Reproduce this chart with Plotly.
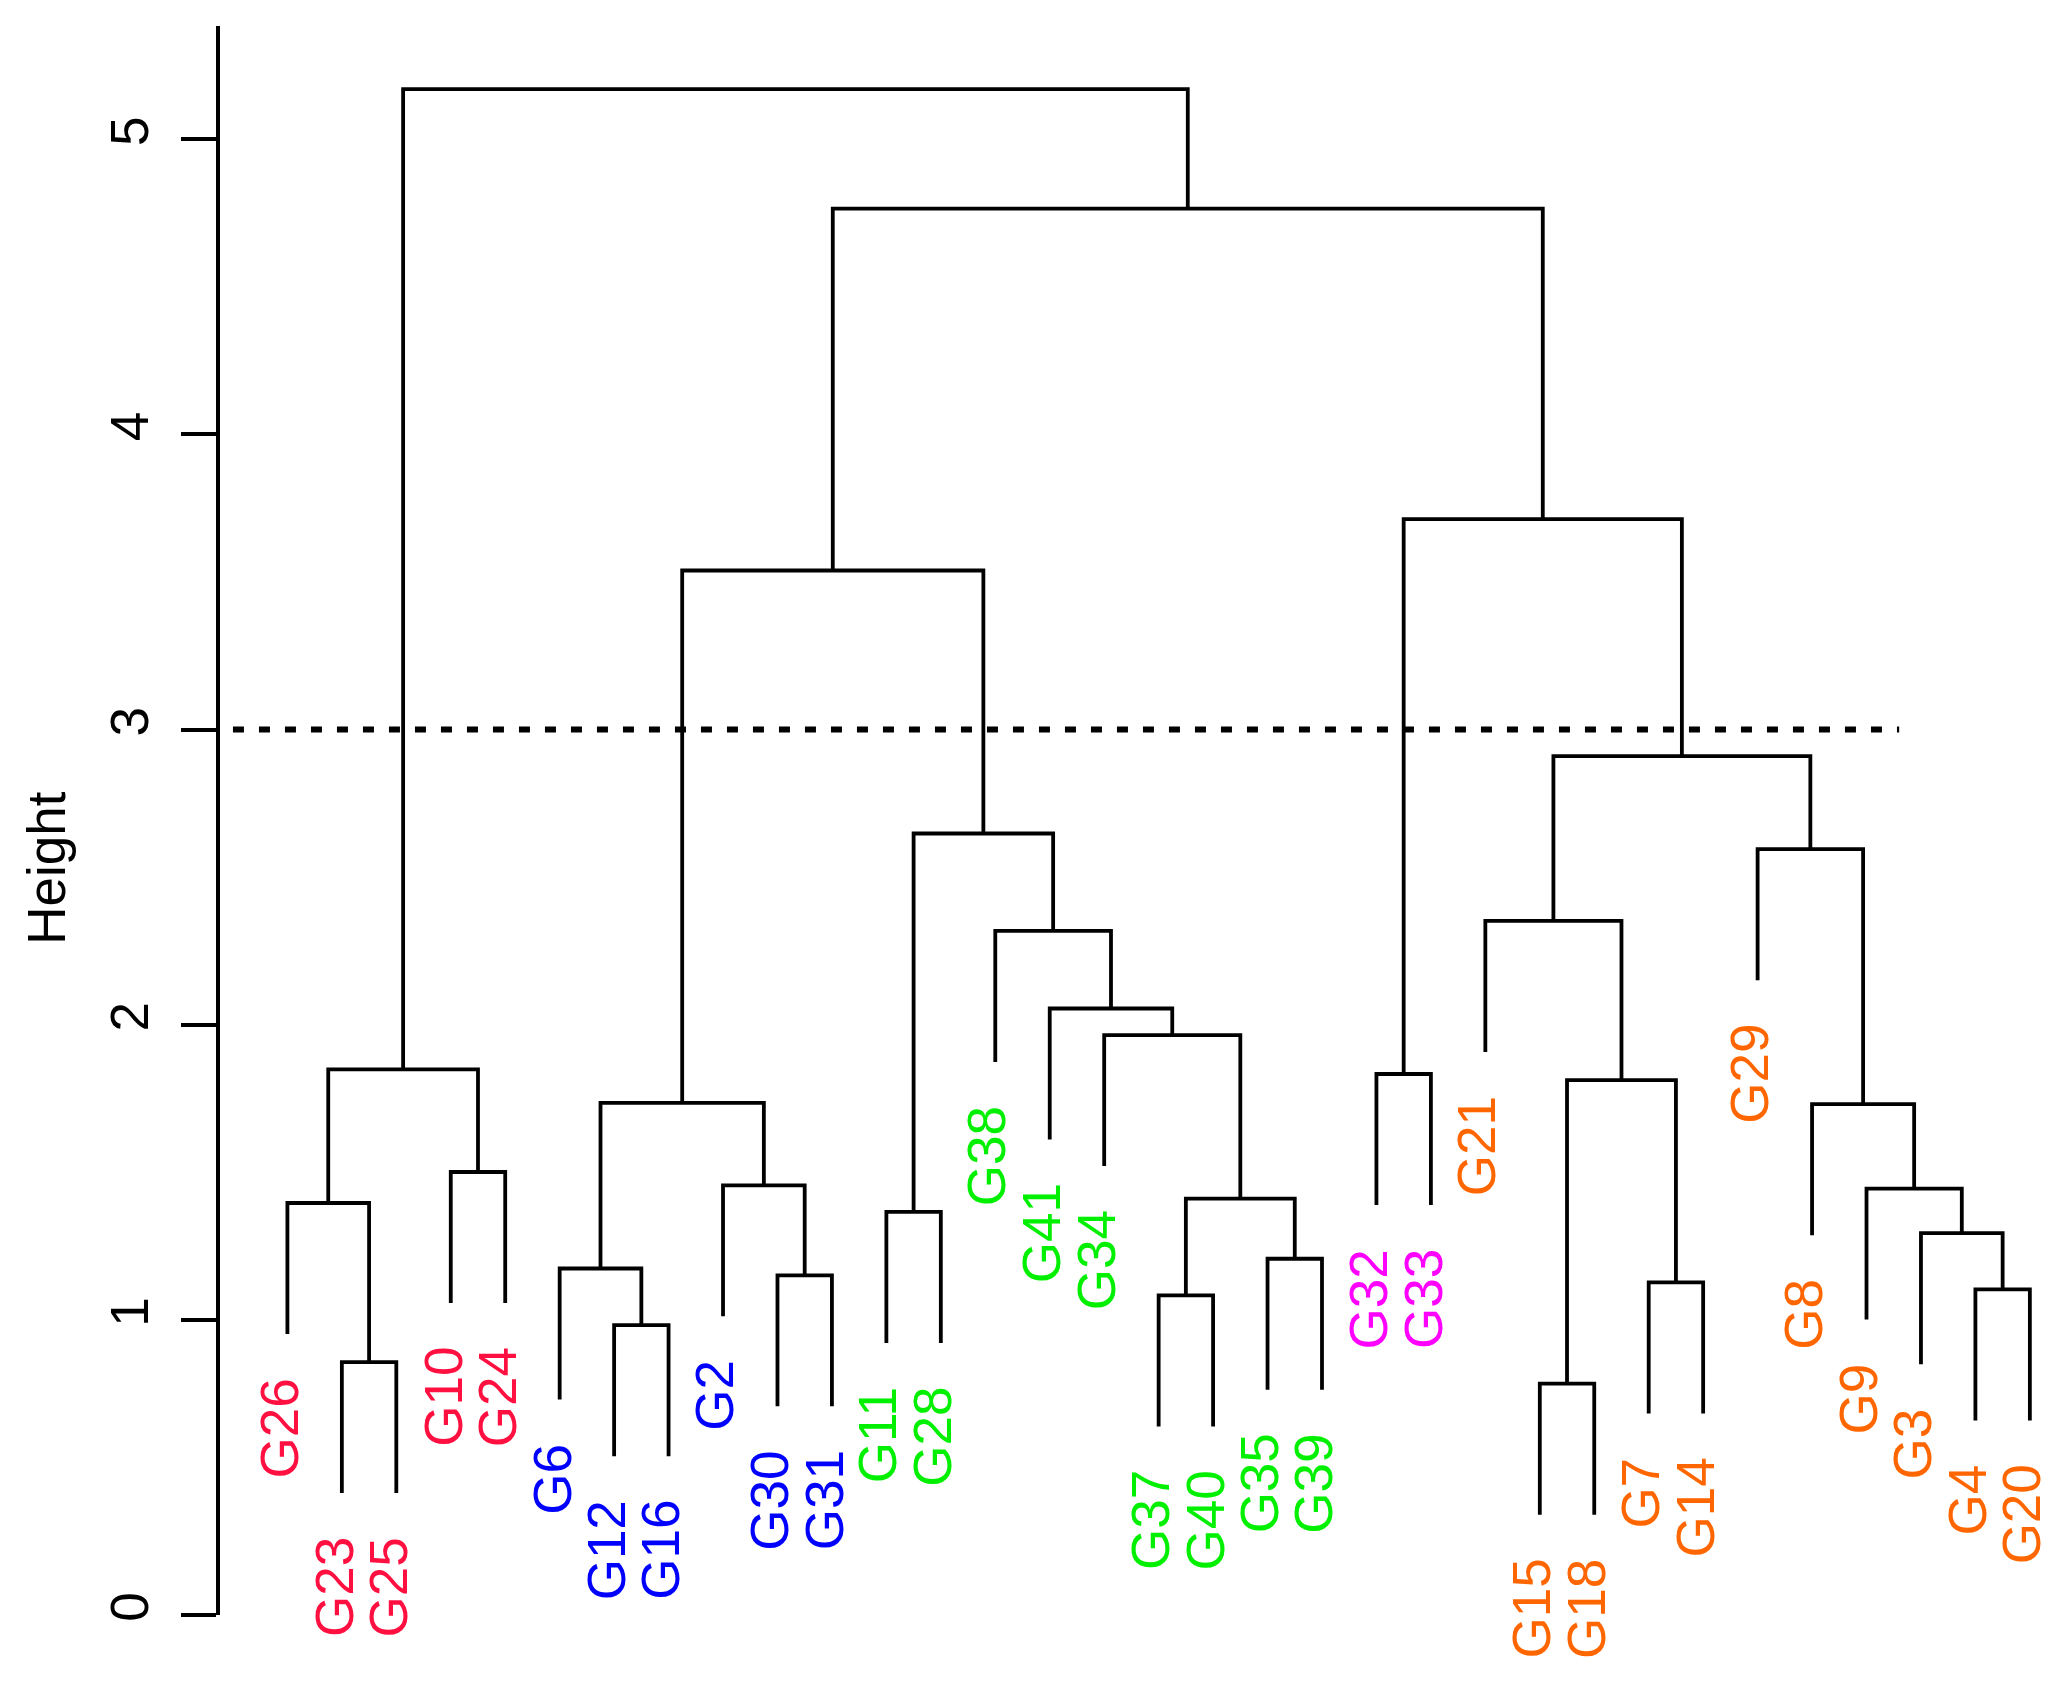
import plotly.graph_objects as go

# ---------------- data ----------------
leaf_labels = ["G26", "G23", "G25", "G10", "G24", "G6", "G12", "G16", "G2", "G30", "G31",
               "G11", "G28", "G38", "G41", "G34", "G37", "G40", "G35", "G39",
               "G32", "G33", "G21", "G15", "G18", "G7", "G14", "G29", "G8", "G9", "G3", "G4", "G20"]
leaf_groups = ["red"] * 5 + ["blue"] * 6 + ["green"] * 9 + ["magenta"] * 2 + ["orange"] * 11
group_colors = {"red": "#FF1040", "blue": "#0000FF", "green": "#00F000",
                "magenta": "#FF00FF", "orange": "#FF6600"}

# merges: children are leaf names or "m<k>" (index of an earlier merge)
merge_left = ["G23", "G26", "G10", "m1", "G12", "G6", "G30", "G2", "m5", "G11",
              "G37", "G35", "m10", "G34", "G41", "G38", "m9", "m8", "G32", "G15",
              "G7", "m19", "G21", "G4", "G3", "G9", "G8", "G29", "m22", "m18", "m17", "m3"]
merge_right = ["G25", "m0", "G24", "m2", "G16", "m4", "G31", "m6", "m7", "G28",
               "G40", "G39", "m11", "m12", "m13", "m14", "m15", "m16", "G33", "G18",
               "G14", "m20", "m21", "G20", "m23", "m24", "m25", "m26", "m27", "m28", "m29", "m30"]
merge_height = [0.857, 1.396, 1.501, 1.849, 0.982, 1.174, 1.151, 1.456, 1.735, 1.366,
                1.083, 1.207, 1.411, 1.965, 2.055, 2.318, 2.648, 3.539, 1.833, 0.784,
                1.127, 1.812, 2.352, 1.103, 1.294, 1.445, 1.731, 2.595, 2.910, 3.713, 4.765, 5.170]

hang = 0.444            # how far leaves hang below their merge
cut_height = 3.0
cut_x = [0.0, 30.6]
y_ticks = [0, 1, 2, 3, 4, 5]

# ---------------- build segments ----------------
leaf_pos = {lab: i + 1 for i, lab in enumerate(leaf_labels)}
node_x = {}
leaf_bottom = {}
xs, ys = [], []
for k, (l, r, h) in enumerate(zip(merge_left, merge_right, merge_height)):
    pts = []
    for c in (l, r):
        if c.startswith("m"):
            idx = int(c[1:])
            pts.append((node_x[idx], merge_height[idx]))
        else:
            yb = h - hang
            leaf_bottom[c] = yb
            pts.append((leaf_pos[c], yb))
    (xl, yl), (xr, yr) = pts
    node_x[k] = (xl + xr) / 2
    xs += [xl, xl, xr, xr, None]
    ys += [yl, h, h, yr, None]

FONT = "Liberation Sans, Arial, Helvetica, sans-serif"
FS = 53

fig = go.Figure()
fig.add_trace(go.Scatter(x=xs, y=ys, mode="lines",
                         line=dict(color="black", width=3.8),
                         hoverinfo="skip", showlegend=False))
fig.add_trace(go.Scatter(x=cut_x, y=[cut_height, cut_height], mode="lines",
                         line=dict(color="black", width=6, dash="11px,15px"),
                         hoverinfo="skip", showlegend=False))

annotations = []
for lab, grp in zip(leaf_labels, leaf_groups):
    annotations.append(dict(x=leaf_pos[lab], y=leaf_bottom[lab], xref="x", yref="y",
                            text=lab, showarrow=False, textangle=-90,
                            xanchor="center", yanchor="top", yshift=-42, xshift=-8,
                            font=dict(family=FONT, size=FS, color=group_colors[grp])))
annotations.append(dict(x=-0.094, y=2.53, xref="paper", yref="y", text="Height",
                        showarrow=False, textangle=-90, xanchor="center", yanchor="middle",
                        font=dict(family=FONT, size=FS, color="black")))

fig.update_layout(
    width=2067, height=1683,
    margin=dict(l=212, r=8, t=18, b=76, pad=0),
    plot_bgcolor="white", paper_bgcolor="white",
    showlegend=False,
    annotations=annotations,
    xaxis=dict(range=[-0.238, 33.682], visible=False, fixedrange=True),
    yaxis=dict(range=[0, 5.384], showgrid=False, zeroline=False,
               showline=True, linecolor="black", linewidth=3.8,
               ticks="outside", ticklen=35, tickwidth=3.8, tickcolor="black",
               tickvals=y_ticks, ticktext=[str(t) for t in y_ticks],
               tickangle=-90, ticklabelstandoff=12,
               tickfont=dict(family=FONT, size=FS, color="black"),
               fixedrange=True),
)

fig.write_html("out.html")
